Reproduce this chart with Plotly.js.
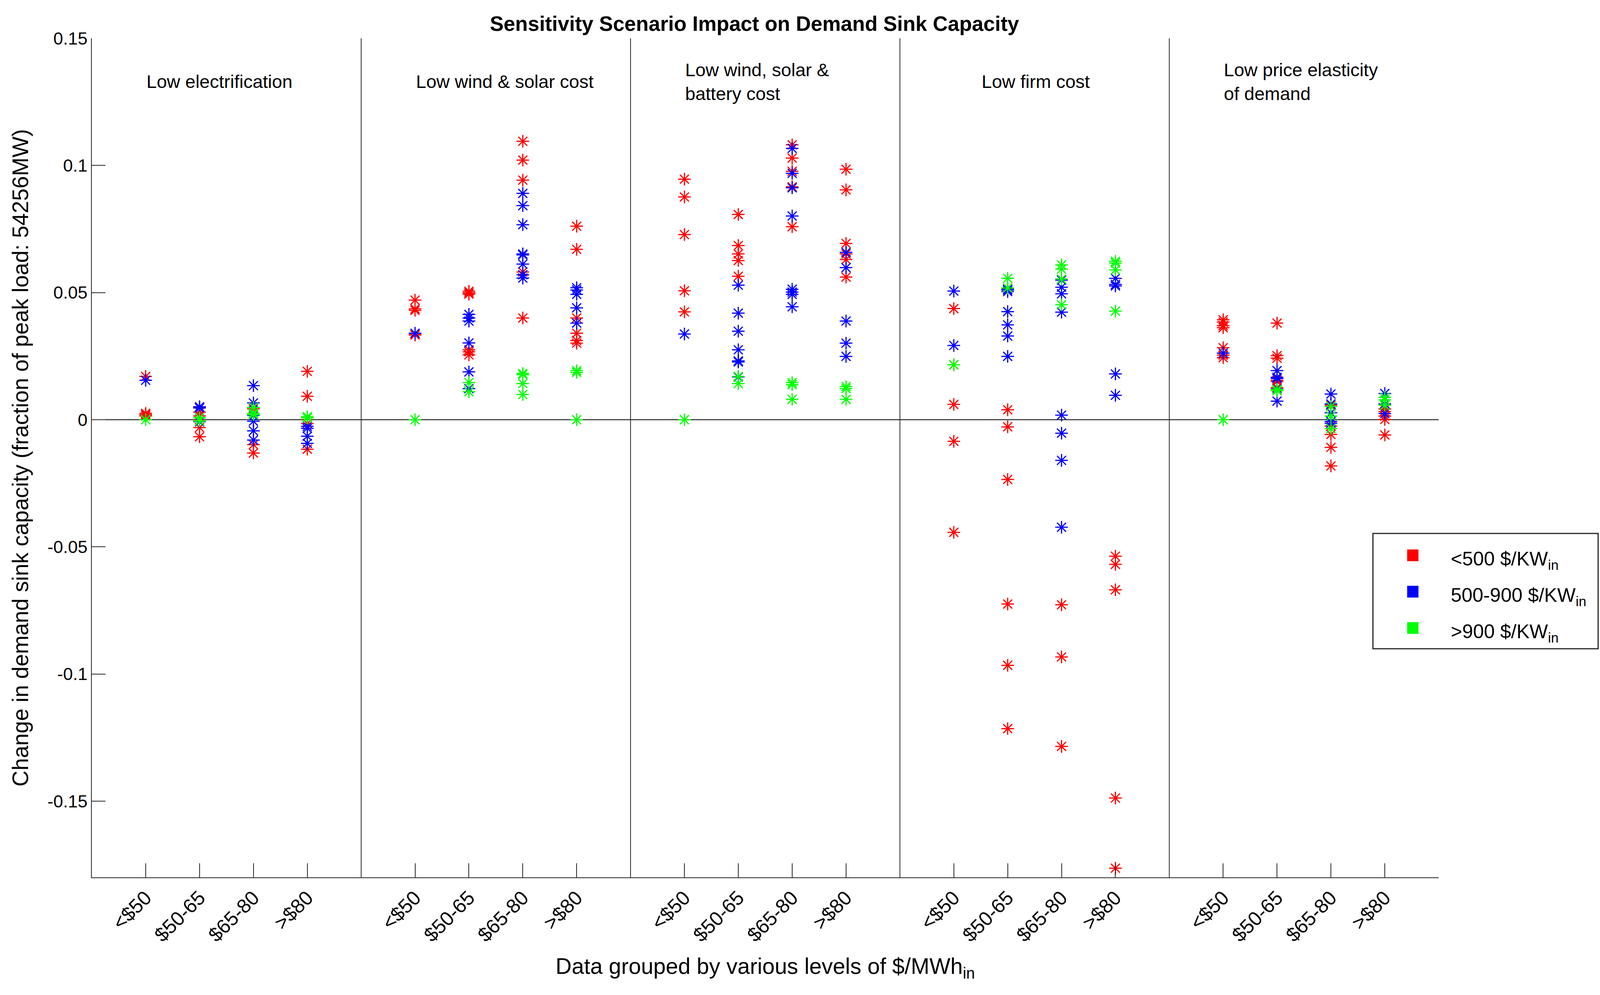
<!DOCTYPE html>
<html>
<head>
<meta charset="utf-8">
<script src="https://cdn.plot.ly/plotly-3.0.1.min.js"></script>
<style>html,body{margin:0;padding:0;background:#fff;overflow:hidden;}</style>
</head>
<body>
<div id="chart"></div>
<script>
// ---- categories ----
const panelLabels = ["Low electrification", "Low wind & solar cost", "Low wind, solar &<br>battery cost", "Low firm cost", "Low price elasticity<br>of demand"];
const panelLabelX = [1.0, 6.0, 11.0, 16.5, 21.0];
const groupLabels = ["<$50", "$50-65", "$65-80", ">$80"];
const seriesNames = ["<500 $/KW<sub>in</sub>", "500-900 $/KW<sub>in</sub>", ">900 $/KW<sub>in</sub>"];
const seriesColors = ["#ff0000", "#0000ff", "#00ff00"];
const yTickVals = [-0.15, -0.1, -0.05, 0, 0.05, 0.1, 0.15];
const yTickText = ["-0.15", "-0.1", "-0.05", "0", "0.05", "0.1", "0.15"];

// ---- values: [panel][group] -> list of points ----
// <500 $/KW_in (red)
const redLowElec   = [[0.017, 0.0025, 0.002, 0.0015], [0.0048, 0.003, 0.0015, -0.0031, -0.0067], [0.0043, -0.0098, -0.0131], [0.019, 0.0092, -0.0015, -0.0116]];
const redLowWS     = [[0.047, 0.0436, 0.043, 0.0338, 0.0333], [0.0505, 0.0499, 0.0494, 0.0275, 0.0267, 0.0255], [0.1095, 0.1021, 0.0942, 0.0581, 0.04], [0.0761, 0.067, 0.04, 0.034, 0.0311, 0.0301]];
const redLowWSB    = [[0.0946, 0.0876, 0.0728, 0.0507, 0.0424], [0.0807, 0.0685, 0.0652, 0.0626, 0.0564], [0.1081, 0.1029, 0.0977, 0.0916, 0.0759], [0.0985, 0.0904, 0.0693, 0.0652, 0.063, 0.0561]];
const redLowFirm   = [[0.0437, 0.0216, 0.006, -0.0085, -0.0443], [0.0039, -0.0028, -0.0235, -0.0725, -0.0966, -0.1215], [-0.0728, -0.0933, -0.1285], [-0.0537, -0.0569, -0.0669, -0.1488, -0.1764]];
const redLowPE     = [[0.0393, 0.0384, 0.037, 0.0362, 0.0283, 0.0254, 0.0244], [0.038, 0.0252, 0.0242, 0.0155, 0.015, 0.0126], [0.0057, -0.0025, -0.0058, -0.0109, -0.0182], [0.0042, 0.0032, 0.0014, 0.0001, -0.006]];
// 500-900 $/KW_in (blue)
const blueLowElec  = [[0.0155], [0.0051, 0.0046, -0.0008], [0.0134, 0.0066, 0.0017, -0.0006, -0.0044, -0.008], [-0.0026, -0.0034, -0.0065, -0.0093]];
const blueLowWS    = [[0.034], [0.0414, 0.04, 0.0388, 0.0302, 0.0188, 0.0122], [0.089, 0.0842, 0.0767, 0.0652, 0.0648, 0.0612, 0.057, 0.0557], [0.0519, 0.051, 0.0493, 0.044, 0.038]];
const blueLowWSB   = [[0.0337], [0.0529, 0.0419, 0.0348, 0.0275, 0.0231, 0.0227, 0.0168], [0.1067, 0.0969, 0.0912, 0.0801, 0.0513, 0.0502, 0.0493, 0.0444], [0.0658, 0.0598, 0.0388, 0.0301, 0.0249]];
const blueLowFirm  = [[0.0506, 0.0292], [0.0514, 0.051, 0.0504, 0.0425, 0.0373, 0.0329, 0.0249], [0.0549, 0.0521, 0.0495, 0.0423, 0.0018, -0.0053, -0.016, -0.0423], [0.0556, 0.0532, 0.0526, 0.018, 0.0096]];
const blueLowPE    = [[0.0262], [0.0193, 0.0167, 0.0162, 0.0121, 0.0073], [0.0101, 0.0062, 0.0027, -0.0007, -0.0014], [0.0103, 0.0062, 0.0024]];
// >900 $/KW_in (green)
const greenLowElec = [[0.0], [0.0007, -0.0005], [0.0048, 0.0025, 0.002], [0.0012, 0.0007]];
const greenLowWS   = [[0.0], [0.0146, 0.011], [0.0182, 0.0177, 0.0142, 0.0099], [0.0193, 0.0186, 0.0]];
const greenLowWSB  = [[0.0], [0.017, 0.0142], [0.0146, 0.0138, 0.008], [0.013, 0.0122, 0.008]];
const greenLowFirm = [[0.0216], [0.0556, 0.0518], [0.0609, 0.0592, 0.0553, 0.0452], [0.0623, 0.0616, 0.0589, 0.0427]];
const greenLowPE   = [[0.0], [0.0119, 0.0114], [0.0052, 0.0014, -0.0035], [0.0088, 0.0078, 0.0057]];

const seriesData = [
  [redLowElec, redLowWS, redLowWSB, redLowFirm, redLowPE],
  [blueLowElec, blueLowWS, blueLowWSB, blueLowFirm, blueLowPE],
  [greenLowElec, greenLowWS, greenLowWSB, greenLowFirm, greenLowPE]
];

// ---- page size: fit the visible window (reference is 4264 x 2546) ----
const W = Math.min(window.innerWidth || 4264, 4264);
const H = 2546;
const sx = W / 4264;
const fs = v => Math.round(v * Math.sqrt(sx));
document.getElementById("chart").style.width = W + "px";
document.getElementById("chart").style.height = H + "px";

const nG = groupLabels.length;
const panelW = nG + 1;
const groupPos = (p, g) => p * panelW + g + 1;

const tickVals = [], tickText = [];
panelLabels.forEach((_, p) => groupLabels.forEach((lab, g) => { tickVals.push(groupPos(p, g)); tickText.push(lab); }));

const FONT = "Liberation Sans, Arial, Helvetica, sans-serif";
const traces = [];
seriesData.forEach((panels, s) => {
  const xs = [], ys = [];
  panels.forEach((groups, p) => groups.forEach((vals, g) => vals.forEach(v => { xs.push(groupPos(p, g)); ys.push(v); })));
  traces.push({
    type: "scatter", mode: "markers", x: xs, y: ys, name: seriesNames[s], showlegend: false, hoverinfo: "skip",
    marker: { symbol: "asterisk-open", size: 27, color: seriesColors[s], line: { width: 3, color: seriesColors[s] } }
  });
});

const xMax = panelLabels.length * panelW;
const shapes = [];
for (let p = 1; p < panelLabels.length; p++) {
  shapes.push({ type: "line", xref: "x", yref: "paper", x0: p * panelW, x1: p * panelW, y0: 0, y1: 1, line: { color: "#262626", width: 2 } });
}
const annotations = panelLabels.map((t, p) => ({
  text: t, x: panelLabelX[p], y: 0.133, xref: "x", yref: "y", xanchor: "left", yanchor: "middle", align: "left",
  showarrow: false, font: { family: FONT, size: fs(48), color: "#000" }
}));

// ---- legend box (drawn manually so the swatches can be large squares) ----
const leg = { x0: 0.9512, x1: 1.1184, y0: 0.2725, y1: 0.4099, sqX0: 0.9766, sqX1: 0.9850, sqH: 0.0070, textX: 1.0085, rowTop: 0.3838, rowStep: 0.0433 };
shapes.push({ type: "rect", xref: "paper", yref: "paper", x0: leg.x0, x1: leg.x1, y0: leg.y0, y1: leg.y1, fillcolor: "#fff", line: { color: "#262626", width: 3 }, layer: "above" });
seriesNames.forEach((name, s) => {
  const yc = leg.rowTop - s * leg.rowStep;
  shapes.push({ type: "rect", xref: "paper", yref: "paper", x0: leg.sqX0, x1: leg.sqX1, y0: yc - leg.sqH, y1: yc + leg.sqH, fillcolor: seriesColors[s], line: { width: 0 }, layer: "above" });
  annotations.push({ text: name, x: leg.textX, y: yc - 0.006, xref: "paper", yref: "paper", xanchor: "left", yanchor: "middle", align: "left",
    showarrow: false, font: { family: FONT, size: fs(51), color: "#000" } });
});

const layout = {
  width: W, height: H,
  paper_bgcolor: "#fff", plot_bgcolor: "#fff",
  margin: { l: Math.round(245 * sx), r: Math.round(430 * sx), t: 98, b: 301 },
  font: { family: FONT, color: "#000" },
  showlegend: false,
  title: { text: "<b>Sensitivity Scenario Impact on Demand Sink Capacity</b>", font: { family: FONT, size: fs(54), color: "#000" },
           x: 0.492, xref: "paper", y: 1 - 60 / H, yref: "container", yanchor: "middle" },
  xaxis: {
    range: [0, xMax], tickmode: "array", tickvals: tickVals, ticktext: tickText, tickangle: -45,
    ticks: "inside", ticklen: 36, tickwidth: 2, tickcolor: "#262626",
    showline: true, linecolor: "#262626", linewidth: 2, showgrid: false, zeroline: false, mirror: false,
    tickfont: { family: FONT, size: fs(52), color: "#000" },
    title: { text: "Data grouped by various levels of $/MWh<sub>in</sub>", font: { family: FONT, size: fs(58), color: "#000" }, standoff: 32 }
  },
  yaxis: {
    range: [-0.18, 0.15], tickmode: "array", tickvals: yTickVals, ticktext: yTickText,
    ticks: "inside", ticklen: 35, tickwidth: 2, tickcolor: "#262626",
    showline: true, linecolor: "#262626", linewidth: 2, showgrid: false,
    zeroline: true, zerolinecolor: "#000", zerolinewidth: 2,
    tickfont: { family: FONT, size: fs(46), color: "#000" },
    title: { text: "Change in demand sink capacity (fraction of peak load: 54256MW)", font: { family: FONT, size: fs(58), color: "#000" }, standoff: 30 }
  },
  shapes: shapes, annotations: annotations
};

Plotly.newPlot("chart", traces, layout, { staticPlot: true, displayModeBar: false });
</script>
</body>
</html>
